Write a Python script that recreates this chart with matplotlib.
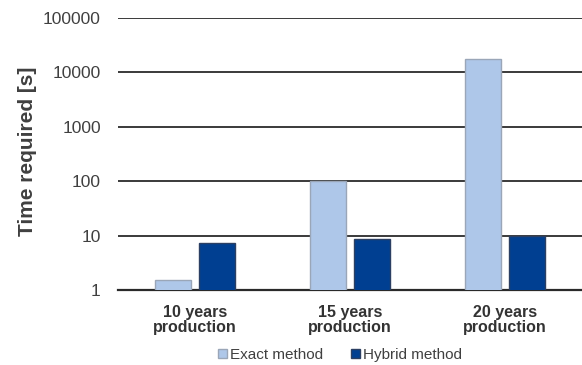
import numpy as np
import matplotlib.pyplot as plt

plt.rcParams['font.family'] = ['Liberation Sans', 'DejaVu Sans']

categories = ['10 years\nproduction', '15 years\nproduction', '20 years\nproduction']
exact_time = [1.5, 100, 18000]
hybrid_time = [7.4, 8.7, 9.8]
y_ticks = [1, 10, 100, 1000, 10000, 100000]
y_tick_labels = ['1', '10', '100', '1000', '10000', '100000']

fig = plt.figure(figsize=(5.82, 3.65), dpi=100)
ax = fig.add_axes([117.5 / 582, 75 / 365, 465 / 582, 272 / 365])

x = np.arange(len(categories))
w = 0.226
gap = 0.058
ax.bar(x - (w + gap) / 2, exact_time, w, color='#aec7e9', edgecolor='#9aa6b8',
       linewidth=1.0, label='Exact method', zorder=3)
ax.bar(x + (w + gap) / 2, hybrid_time, w, color='#003f91', edgecolor='#2b3f63',
       linewidth=1.0, label='Hybrid method', zorder=3)

ax.set_yscale('log')
ax.set_ylim(1, 100000)
ax.set_xlim(-0.5, 2.5)
ax.set_yticks(y_ticks)
ax.set_yticklabels(y_tick_labels)
ax.yaxis.set_minor_locator(plt.NullLocator())
ax.tick_params(axis='y', length=0, pad=12, labelsize=12.5, labelcolor='#404040')
ax.set_xticks(x)
ax.set_xticklabels(categories, fontweight='bold', fontsize=11.5, color='#333333',
                   linespacing=0.95)
ax.tick_params(axis='x', length=0, pad=11)

ax.grid(axis='y', color='#3a3a3a', linewidth=1.4, zorder=0)
for s in ['left', 'right', 'top']:
    ax.spines[s].set_visible(False)
ax.spines['bottom'].set_color('#2a2a2a')
ax.spines['bottom'].set_linewidth(1.6)

ax.set_ylabel('Time required [s]', fontsize=15, fontweight='bold', color='#404040')
ax.yaxis.set_label_coords(-(117.5 - 37) / 465, 0.51)

fig.legend(loc='center', bbox_to_anchor=(340 / 582, 1 - 355 / 365), ncol=2,
           frameon=False, fontsize=11, handlelength=0.6, handleheight=0.6,
           handletextpad=0.2, columnspacing=1.8, labelcolor='#404040')

fig.savefig('out.png', dpi=100)
